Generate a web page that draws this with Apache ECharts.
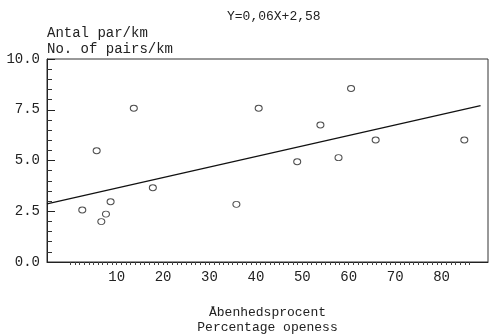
<!DOCTYPE html>
<html><head><meta charset="utf-8">
<script src="https://cdn.jsdelivr.net/npm/echarts@6/dist/echarts.min.js"></script>
<style>html,body{margin:0;padding:0;background:#fff}#c{width:489px;height:335px}</style>
</head><body><div id="c"></div>
<script>
var titleText = "Y=0,06X+2,58";
var yName = ["Antal par/km", "No. of pairs/km"];
var xName = ["Åbenhedsprocent", "Percentage openess"];
var xVals = [2.6, 5.7, 6.7, 7.7, 8.7, 13.7, 17.8, 35.8, 40.6, 48.9, 53.9, 57.8, 60.5, 65.8, 84.9];
var yVals = [2.56, 5.48, 1.99, 2.36, 2.97, 7.57, 3.66, 2.84, 7.57, 4.94, 6.75, 5.14, 8.55, 6.01, 6.01];
var lineX = [-5, 88.4];
var lineY = [2.86, 7.70];
var xLabels = [10, 20, 30, 40, 50, 60, 70, 80];
var xMinorTicks = [];
for (var i = 0; i <= 86; i++) xMinorTicks.push(i);

var font = "Liberation Mono";
var chart = echarts.init(document.getElementById('c'), null, {renderer: 'canvas'});
chart.setOption({
  animation: false,
  backgroundColor: '#fff',
  title: [
    {text: titleText, left: 222, top: 5, textStyle: {fontFamily: font, fontSize: 13, fontWeight: 'normal', color: '#222'}},
    {text: yName.join('\n'), left: 42, top: 20, textStyle: {fontFamily: font, fontSize: 14, fontWeight: 'normal', color: '#222', lineHeight: 16}}
  ],
  grid: {left: 47, right: 1, top: 59, bottom: 73, outerBoundsMode: 'none', containLabel: false, show: true, borderColor: '#333', borderWidth: 1, backgroundColor: 'transparent'},
  xAxis: {
    type: 'value', min: -5, max: 90, interval: 5,
    name: xName.join('\n'), nameLocation: 'middle', nameGap: 43,
    nameTextStyle: {fontFamily: font, fontSize: 13, color: '#222', lineHeight: 15},
    axisLine: {show: true, onZero: false, lineStyle: {color: '#222', width: 1}},
    axisTick: {show: true, inside: false, length: 3, customValues: xMinorTicks, lineStyle: {color: '#444', width: 1}},
    axisLabel: {customValues: xLabels, fontFamily: font, fontSize: 14, color: '#222', margin: 8},
    splitLine: {show: false}
  },
  yAxis: {
    type: 'value', min: 0, max: 10, interval: 2.5,
    axisLine: {show: true, onZero: false, lineStyle: {color: '#222', width: 1}},
    axisTick: {show: true, inside: true, length: 8, lineStyle: {color: '#222'}},
    minorTick: {show: true, splitNumber: 5, length: 5, lineStyle: {color: '#333'}},
    axisLabel: {fontFamily: font, fontSize: 14, color: '#222', margin: 7, formatter: function (v) { return v.toFixed(1); }},
    splitLine: {show: false}
  },
  series: [
    {type: 'line', data: lineX.map(function (x, i) { return [x, lineY[i]]; }), showSymbol: false, symbol: 'none',
     lineStyle: {color: '#111', width: 1.2}, silent: true},
    {type: 'scatter', data: xVals.map(function (x, i) { return [x, yVals[i]]; }), symbol: 'circle', symbolSize: [7, 6],
     itemStyle: {color: '#fff', borderColor: '#222', borderWidth: 1}}
  ]
});
</script></body></html>
